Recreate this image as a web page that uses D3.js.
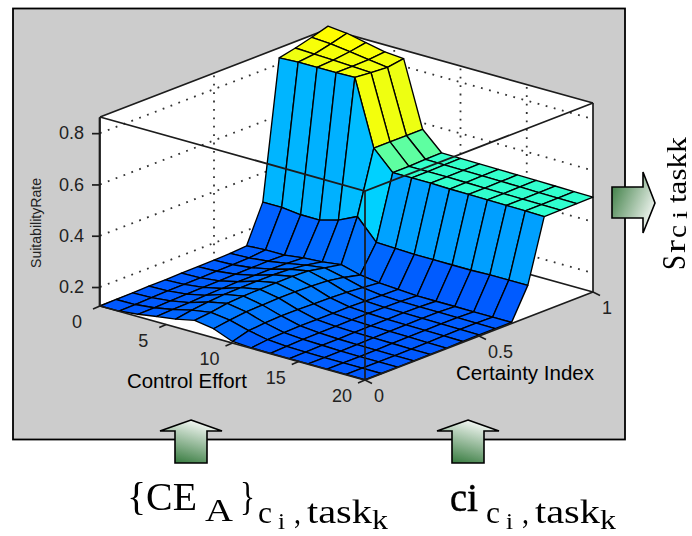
<!DOCTYPE html>
<html><head><meta charset="utf-8">
<script src="https://cdn.jsdelivr.net/npm/d3@7"></script>
<style>html,body{margin:0;padding:0;background:#fff}svg{display:block;filter:blur(0.35px)}</style>
</head><body><svg id="c" width="692" height="536"></svg>
<script>
const controlEffort=[0,1.43,2.86,4.29,5.71,7.14,8.57,10,11.43,12.86,14.29,15.71,17.14,18.57,20];
const certaintyIndex=[0,0.071,0.143,0.214,0.286,0.357,0.429,0.5,0.571,0.643,0.714,0.786,0.857,0.929,1];
const suitability=[
[.126,.127,.135,.147,.157,.173,.161,.132,.128,.127,.127,.127,.127,.127,.127],
[.127,.128,.136,.150,.168,.180,.170,.150,.135,.130,.128,.127,.127,.127,.127],
[.128,.130,.138,.152,.175,.190,.178,.155,.138,.132,.130,.128,.127,.127,.127],
[.130,.132,.140,.156,.180,.194,.180,.158,.140,.133,.130,.129,.128,.127,.127],
[.130,.133,.142,.158,.182,.196,.182,.158,.140,.134,.131,.130,.129,.128,.128],
[.132,.134,.143,.160,.183,.197,.182,.156,.140,.135,.132,.131,.130,.129,.128],
[.132,.135,.144,.160,.183,.197,.180,.155,.140,.136,.133,.132,.131,.130,.129],
[.133,.136,.145,.160,.180,.194,.176,.152,.138,.135,.134,.133,.132,.131,.130],
[.135,.138,.146,.158,.172,.182,.165,.146,.136,.134,.133,.133,.132,.131,.130],
[.140,.145,.145,.155,.160,.170,.150,.140,.135,.130,.130,.130,.130,.130,.130],
[.286,.286,.278,.278,.298,.333,.253,.250,.247,.247,.247,.247,.250,.250,.250],
[.824,.828,.828,.828,.830,.575,.500,.500,.500,.498,.498,.497,.496,.495,.493],
[.838,.835,.832,.828,.824,.575,.500,.500,.500,.499,.498,.497,.496,.495,.494],
[.855,.850,.840,.830,.820,.575,.503,.502,.501,.500,.499,.498,.497,.496,.495],
[.874,.867,.851,.836,.830,.575,.504,.503,.502,.501,.500,.499,.498,.497,.496]];
const zTicks=[0.2,0.4,0.6,0.8];
const controlTicks=[0,5,10,15,20];
const certaintyTicks=[0,0.5,1];
const certaintyTickLabels=["0","0.5","1"];
const jetZ=[-0.026,0.413,0.851,1.29];
const jetColors=["#0000ff","#00ffff","#ffff00","#ff0000"];

const svg=d3.select("#c");
const sans="'Liberation Sans',Arial,sans-serif", serif="'Liberation Serif','Times New Roman',serif";
const dark="#1c1c1c";

svg.append("rect").attr("x",13).attr("y",8.5).attr("width",612).attr("height",431).attr("fill","#cccccc").attr("stroke","#000").attr("stroke-width",1.8);

const zY=d3.scaleLinear().domain([.126,.863]).range([306,117]);
const uX=d3.scaleLinear().domain([0,20]).range([0,265]);
const uY=d3.scaleLinear().domain([0,20]).range([0,74]);
const vX=d3.scaleLinear().domain([0,1]).range([0,228]);
const vY=d3.scaleLinear().domain([0,1]).range([0,-88]);
const P=(c,v,z)=>[100+uX(c)+vX(v),zY(z)+uY(c)+vY(v)];
const color=d3.scaleLinear().domain(jetZ).range(jetColors).clamp(true);
const line=d3.line();
const zLo=.126,zHi=.863,cMax=20,vMax=1;

const walls=[[[0,0,zLo],[0,vMax,zLo],[0,vMax,zHi],[0,0,zHi]],[[0,vMax,zLo],[cMax,vMax,zLo],[cMax,vMax,zHi],[0,vMax,zHi]],[[0,0,zLo],[cMax,0,zLo],[cMax,vMax,zLo],[0,vMax,zLo]]];
svg.append("g").selectAll("path").data(walls).join("path")
 .attr("d",d=>line(d.map(p=>P(...p)))+"Z").attr("fill","#fff").attr("stroke","none");

const grid=svg.append("g").attr("fill","none").attr("stroke","#333").attr("stroke-width",1.8).attr("stroke-dasharray","1.8 6.6");
zTicks.forEach(z=>{
 grid.append("path").attr("d",line([P(0,0,z),P(0,vMax,z),P(cMax,vMax,z)]));
});
certaintyTicks.slice(1,-1).forEach(v=>{grid.append("path").attr("d",line([P(0,v,zLo),P(0,v,zHi)]));});
controlTicks.slice(1,-1).forEach(c=>{grid.append("path").attr("d",line([P(c,vMax,zLo),P(c,vMax,zHi)]));});

const edge=svg.append("g").attr("fill","none").attr("stroke",dark).attr("stroke-width",1.7);
[[[0,0,zLo],[0,vMax,zLo],[cMax,vMax,zLo]],[[0,0,zHi],[0,vMax,zHi],[cMax,vMax,zHi]],[[0,vMax,zLo],[0,vMax,zHi]],[[cMax,vMax,zLo],[cMax,vMax,zHi]]]
 .forEach(s=>edge.append("path").attr("d",line(s.map(p=>P(...p)))));

const faces=[];
suitability.slice(0,-1).forEach((row,j)=>row.slice(0,-1).forEach((z,i)=>{
 faces.push({i,j,c:z,pts:[[i,j],[i+1,j],[i+1,j+1],[i,j+1]].map(([a,b])=>P(controlEffort[a],certaintyIndex[b],suitability[b][a]))});
}));
faces.sort((a,b)=>(a.i-a.j)-(b.i-b.j));
svg.append("g").selectAll("path").data(faces).join("path")
 .attr("d",d=>line(d.pts)+"Z").attr("fill",d=>color(d.c)).attr("stroke","#000").attr("stroke-width",1.35).attr("stroke-linejoin","round");

const front=svg.append("g").attr("fill","none").attr("stroke",dark).attr("stroke-width",1.7);
[[[0,0,zHi],[cMax,0,zHi],[cMax,vMax,zHi]],[[cMax,0,zLo],[cMax,0,zHi]],[[0,0,zLo],[cMax,0,zLo],[cMax,vMax,zLo]],[[0,0,zLo],[0,0,zHi]]]
 .forEach(s=>front.append("path").attr("d",line(s.map(p=>P(...p)))));

const zAxis=svg.append("g").attr("transform","translate(99,0)").call(d3.axisLeft(zY).tickValues(zTicks).tickSize(7).tickPadding(8).tickSizeOuter(0).tickFormat(d3.format(".1f")));
zAxis.select(".domain").attr("stroke",dark).attr("stroke-width",1.7);
zAxis.selectAll("line").attr("stroke",dark).attr("stroke-width",1.7);
zAxis.selectAll("text").attr("font-family",sans).attr("font-size",18).attr("fill","#222");

const ticks=svg.append("g").attr("font-family",sans).attr("font-size",18).attr("fill","#222");
controlTicks.forEach(c=>{
 const [x,y]=P(c,0,zLo);
 ticks.append("line").attr("x1",x).attr("y1",y).attr("x2",x-7).attr("y2",y+3).attr("stroke",dark).attr("stroke-width",1.5);
 ticks.append("text").attr("x",x-23).attr("y",y+22).attr("text-anchor","middle").text(c);
});
certaintyTicks.forEach((v,k)=>{
 const [x,y]=P(cMax,v,zLo);
 ticks.append("line").attr("x1",x).attr("y1",y).attr("x2",x+7).attr("y2",y+3.5).attr("stroke",dark).attr("stroke-width",1.5);
 ticks.append("text").attr("x",x+9).attr("y",y+22).text(certaintyTickLabels[k]);
});

const lab=svg.append("g").attr("font-family",sans).attr("fill","#000");
lab.append("text").attr("x",127).attr("y",388).attr("font-size",20).attr("textLength",120).attr("lengthAdjust","spacingAndGlyphs").text("Control Effort");
lab.append("text").attr("x",456).attr("y",380).attr("font-size",20).attr("textLength",138).attr("lengthAdjust","spacingAndGlyphs").text("Certainty Index");
lab.append("text").attr("transform","translate(41,268) rotate(-90)").attr("font-size",14.5).attr("textLength",90).attr("lengthAdjust","spacingAndGlyphs").attr("fill","#222").text("SuitabilityRate");

const defs=svg.append("defs");
const grad=(id,x1,y1,x2,y2,a,b)=>{const g=defs.append("linearGradient").attr("id",id).attr("x1",x1).attr("y1",y1).attr("x2",x2).attr("y2",y2);
 g.append("stop").attr("offset",0).attr("stop-color",a);g.append("stop").attr("offset",1).attr("stop-color",b);};
grad("up",.3,1,.7,0,"#3a7d42","#ffffff");
grad("rt",0,.2,1,.8,"#3f7f46","#ffffff");
const upArrow=cx=>[[cx,420],[cx+31,431],[cx+16,431],[cx+16,463],[cx-16,463],[cx-16,431],[cx-31,431]];
[191,468].forEach(cx=>svg.append("path").attr("d",line(upArrow(cx))+"Z").attr("fill","url(#up)").attr("stroke","#000").attr("stroke-width",1.6));
svg.append("path").attr("d",line([[612,187],[643,187],[643,172],[655,203],[643,233],[643,218],[612,218]])+"Z").attr("fill","url(#rt)").attr("stroke","#000").attr("stroke-width",1.6);

const T=(g,x,y,size,s,len)=>{const t=g.append("text").attr("x",x).attr("y",y).attr("font-size",size).text(s);
 if(len)t.attr("textLength",len).attr("lengthAdjust","spacingAndGlyphs");return t;};
const f=svg.append("g").attr("font-family",serif).attr("fill","#000");
T(f,127,510,40,"{CE",70);T(f,205,521,32,"A",28);T(f,240,510,40,"}",15);
const sub=(x)=>{T(f,x,523,32,"c",14);T(f,x+20,529,24,"i",7);T(f,x+36,523,32,",",7);T(f,x+49,523,34,"task",65);T(f,x+114,529,28,"k",16);};
sub(258);
T(f,450,511,40,"c",17).attr("stroke","#000").attr("stroke-width",.5);T(f,467,511,40,"i",11).attr("stroke","#000").attr("stroke-width",.5);
sub(486);
const r=svg.append("g").attr("font-family",serif).attr("fill","#000").attr("transform","translate(685,270) rotate(-90)");
T(r,0,0,33,"S",15);T(r,17,0,30,"r",13);T(r,32,1,27,"c",13);T(r,51,2,22,"i",8);T(r,67,1,28,"task",50);T(r,117,1,28,"k",16);
</script></body></html>
